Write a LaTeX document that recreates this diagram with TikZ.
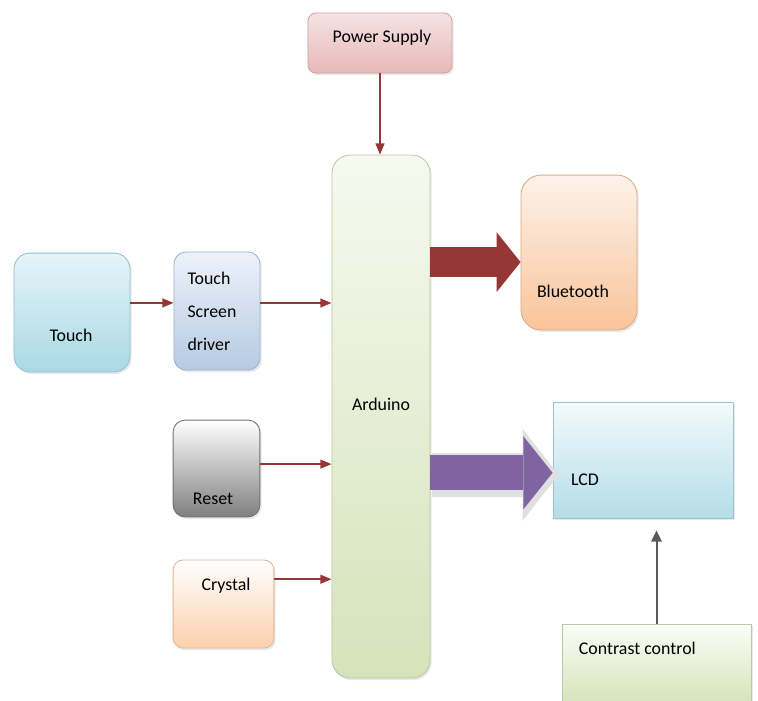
\documentclass[tikz,border=0pt]{standalone}
\usepackage{fontspec}
\setmainfont{Carlito}
\usetikzlibrary{arrows.meta, shadows}
\definecolor{cred}{HTML}{953735}
\definecolor{cpurple}{HTML}{8064A2}
\definecolor{cpinktop}{HTML}{F6E3E3}
\definecolor{cpink}{HTML}{E6B9B8}
\definecolor{cgreentop}{HTML}{F6F9EF}
\definecolor{cgreen}{HTML}{D5E3BA}
\definecolor{cpeachtop}{HTML}{FDF2EA}
\definecolor{cpeach}{HTML}{F9C49A}
\definecolor{ccrystal}{HTML}{FBD0AC}
\definecolor{ccyantop}{HTML}{E6F4F8}
\definecolor{ccyan}{HTML}{A9D9E5}
\definecolor{clcdtop}{HTML}{F3FAFC}
\definecolor{clcd}{HTML}{B4DDE7}
\definecolor{cctrltop}{HTML}{FBFDF7}
\definecolor{cbluetop}{HTML}{EDF2F9}
\definecolor{cblue}{HTML}{B6CAE3}
\definecolor{cgrey}{HTML}{7F7F7F}
\definecolor{cdark}{HTML}{5A5A5A}
\tikzset{
  every picture/.style={font=\fontsize{12.7}{15}\selectfont},
  box/.style 2 args={top color=#1, bottom color=#2, draw=#2!88!black, line width=0.6pt,
    rounded corners=0.3cm, inner sep=0pt,
    drop shadow={opacity=0.18, shadow xshift=1.2pt, shadow yshift=-1.5pt}},
  flatbox/.style 2 args={box={#1}{#2}, rounded corners=0pt},
  conn/.style={-{Triangle[length=0.28cm, width=0.22cm]}, draw=cred, line width=0.04cm},
  ctrl/.style={-{Triangle[length=0.28cm, width=0.26cm]}, draw=cdark, line width=0.05cm},
  fatarrow/.style={draw=#1, line width=0.75cm, -{Triangle[length=0.6cm, width=1.5cm, line width=0pt]}},
}

\begin{document}
\begin{tikzpicture}[x=0.025cm, y=-0.025cm]
  \useasboundingbox (0,0) rectangle (758,700);
  % blocks
  \node[box={cpinktop}{cpink}, rounded corners=0.2cm, minimum width=3.6cm, minimum height=1.5cm] (pwr) at (380,43) {};
  \node at (382,38) {Power Supply};
  \node[box={cgreentop}{cgreen}, rounded corners=0.45cm, minimum width=2.45cm, minimum height=13.07cm] (ard) at (381,416.5) {};
  \node at (381,404) {Arduino};
  \node[box={cpeachtop}{cpeach}, rounded corners=0.5cm, minimum width=2.9cm, minimum height=3.87cm] (bt) at (579,252.5) {};
  \node at (573,291) {Bluetooth};
  \node[box={ccyantop}{ccyan}, rounded corners=0.4cm, minimum width=2.9cm, minimum height=2.97cm] (tch) at (72,312.5) {};
  \node at (71,335) {Touch};
  \node[box={cbluetop}{cblue}, minimum width=2.15cm, minimum height=2.95cm] (drv) at (217,311) {};
  \node[align=left, font=\fontsize{12.7}{23.5}\selectfont] at (212,311) {Touch\\Screen\\driver};
  \node[box={white}{cgrey}, minimum width=2.17cm, minimum height=2.42cm] (rst) at (216.5,468.5) {};
  \node at (213,499) {Reset};
  \node[box={white}{ccrystal}, rounded corners=0.25cm, minimum width=2.52cm, minimum height=2.2cm] (cry) at (223.5,604) {};
  \node at (226,586) {Crystal};
  \node[flatbox={clcdtop}{clcd}, minimum width=4.5cm, minimum height=2.9cm] (lcd) at (643,460) {};
  \node at (585,480) {LCD};
  \node[flatbox={cctrltop}{cgreen}, minimum width=4.72cm, minimum height=2.0cm] (con) at (656.5,664) {};
  \node[anchor=west] at (574,648) {Contrast control};
  % thin connectors
  \draw[conn] (pwr.south) -- (pwr.south |- ard.north);
  \draw[conn] ([yshift=0.24cm]tch.east) coordinate (t1) -- (t1 -| drv.west);
  \foreach \n/\dy in {drv/0.2, rst/0.11, cry/0.62}
    \draw[conn] ([yshift=\dy cm]\n.east) coordinate (c1) -- (c1 -| ard.west);
  \draw[ctrl, shorten >=0.3cm] (con.north) -- (con.north |- lcd.south);
  % fat connectors
  \coordinate (b1) at ([yshift=-0.24cm]bt.west);
  \draw[fatarrow=cred] (b1 -| ard.east) -- (b1);
  \coordinate (l1) at ([yshift=-0.32cm]lcd.west);
  \draw[fatarrow=black!12, line width=1.1cm, -{Triangle[length=0.9cm, width=2.3cm, line width=0pt]},
    shorten >=-0.1cm] ([xshift=0.05cm, yshift=-0.05cm]l1 -| ard.east) -- ([xshift=0.05cm, yshift=-0.05cm]l1);
  \draw[fatarrow=cpurple, line width=0.87cm, -{Triangle[length=0.73cm, width=1.83cm, line width=0pt]}]
    (l1 -| ard.east) -- (l1);
\end{tikzpicture}
\end{document}
